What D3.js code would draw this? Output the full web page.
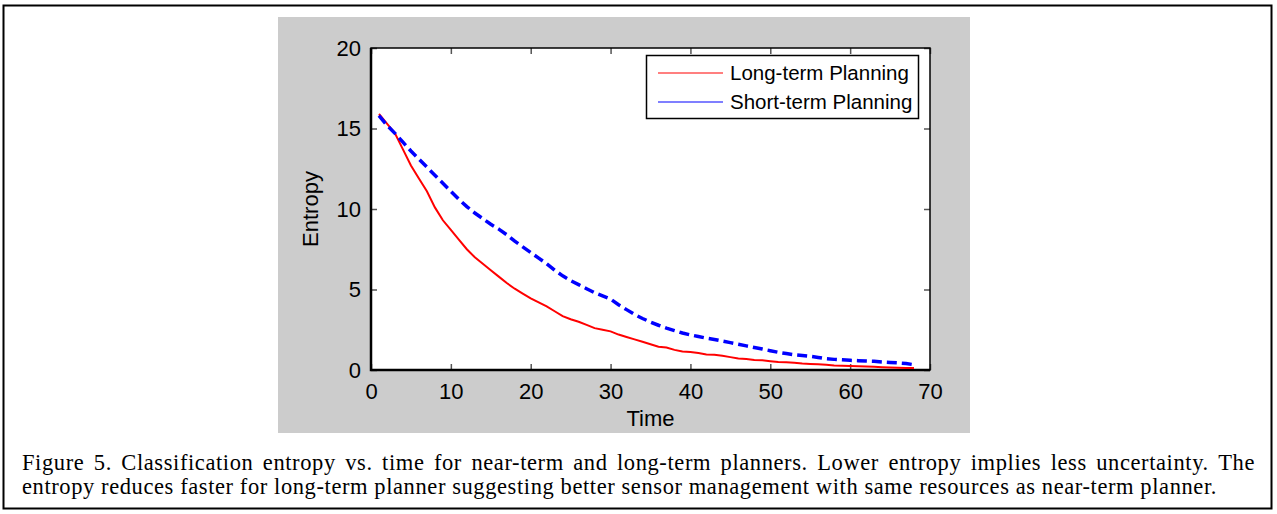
<!DOCTYPE html>
<html>
<head>
<meta charset="utf-8">
<script src="https://cdn.jsdelivr.net/npm/d3@7"></script>
<style>
  html, body { margin: 0; padding: 0; background: #fff; }
  svg { display: block; }
</style>
</head>
<body>
<div id="chart"></div>
<script>
// time steps (x values)
const time = [1, 2, 3, 4, 5, 6, 7, 8, 9, 10, 11, 12, 13, 14, 15, 16, 17, 18, 19, 20,
  21, 22, 23, 24, 25, 26, 27, 28, 29, 30, 31, 32, 33, 34, 35, 36, 37, 38, 39, 40,
  41, 42, 43, 44, 45, 46, 47, 48, 49, 50, 51, 52, 53, 54, 55, 56, 57, 58, 59, 60,
  61, 62, 63, 64, 65, 66, 67, 68];

// entropy, long-term planner (red)
const longTerm = [15.9, 15.3, 14.7, 13.7, 12.7, 11.9, 11.1, 10.1, 9.3, 8.7,
  8.1, 7.5, 7.0, 6.6, 6.2, 5.8, 5.4, 5.05, 4.75, 4.45,
  4.2, 3.95, 3.65, 3.35, 3.15, 3.0, 2.8, 2.6, 2.5, 2.4,
  2.2, 2.05, 1.9, 1.75, 1.6, 1.45, 1.4, 1.25, 1.15, 1.12,
  1.05, 0.97, 0.95, 0.88, 0.8, 0.72, 0.68, 0.62, 0.6, 0.55,
  0.5, 0.48, 0.45, 0.4, 0.38, 0.36, 0.32, 0.28, 0.26, 0.25,
  0.24, 0.22, 0.2, 0.17, 0.15, 0.14, 0.13, 0.12];

// entropy, short-term planner (blue dashed)
const shortTerm = [15.8, 15.2, 14.7, 14.15, 13.6, 13.1, 12.6, 12.1, 11.6, 11.1,
  10.6, 10.15, 9.75, 9.4, 9.05, 8.75, 8.4, 8.0, 7.65, 7.3,
  6.95, 6.6, 6.2, 5.85, 5.55, 5.3, 5.05, 4.8, 4.6, 4.4,
  4.05, 3.75, 3.45, 3.2, 2.98, 2.78, 2.6, 2.45, 2.3, 2.18,
  2.08, 1.98, 1.9, 1.8, 1.7, 1.6, 1.5, 1.4, 1.3, 1.2,
  1.1, 1.02, 0.95, 0.9, 0.85, 0.78, 0.7, 0.66, 0.63, 0.6,
  0.58, 0.56, 0.54, 0.5, 0.47, 0.44, 0.4, 0.33];

const xTicks = [0, 10, 20, 30, 40, 50, 60, 70];
const yTicks = [0, 5, 10, 15, 20];
const legendLabels = ['Long-term Planning', 'Short-term Planning'];
const captionLines = [
  'Figure 5. Classification entropy vs. time for near-term and long-term planners. Lower entropy implies less uncertainty. The',
  'entropy reduces faster for long-term planner suggesting better sensor management with same resources as near-term planner.'
];

const width = 1277, height = 514;
const plot = { left: 371, right: 930, top: 48, bottom: 370 };

const svg = d3.select('#chart')
  .append('svg')
  .attr('width', width)
  .attr('height', height);

// outer frame
svg.append('rect')
  .attr('x', 3.5).attr('y', 5.5)
  .attr('width', 1268).attr('height', 503)
  .attr('fill', '#fff')
  .attr('stroke', '#000')
  .attr('stroke-width', 2);

// gray figure background
svg.append('rect')
  .attr('x', 278).attr('y', 17)
  .attr('width', 692).attr('height', 416)
  .attr('fill', '#cccccc');

svg.append('rect')
  .attr('x', plot.left).attr('y', plot.top)
  .attr('width', plot.right - plot.left).attr('height', plot.bottom - plot.top)
  .attr('fill', '#fff');

const xScale = d3.scaleLinear().domain([0, 70]).range([plot.left, plot.right]);
const yScale = d3.scaleLinear().domain([0, 20]).range([plot.bottom, plot.top]);

const tickFont = '"Liberation Sans", Arial, sans-serif';

// axes
svg.append('g')
  .attr('transform', `translate(0,${plot.bottom})`)
  .call(d3.axisBottom(xScale).tickValues(xTicks).tickSizeInner(-6).tickSizeOuter(0).tickPadding(13));
svg.append('g')
  .attr('transform', `translate(${plot.left},0)`)
  .call(d3.axisLeft(yScale).tickValues(yTicks).tickSizeInner(-6).tickSizeOuter(0).tickPadding(10));
svg.append('g')
  .attr('transform', `translate(0,${plot.top})`)
  .call(d3.axisTop(xScale).tickValues(xTicks).tickSizeInner(-6).tickSizeOuter(0).tickFormat(''));
svg.append('g')
  .attr('transform', `translate(${plot.right},0)`)
  .call(d3.axisRight(yScale).tickValues(yTicks).tickSizeInner(-6).tickSizeOuter(0).tickFormat(''));

svg.selectAll('.tick line').attr('stroke', '#555').attr('stroke-width', 1.5);
svg.selectAll('.domain').remove();
svg.selectAll('.tick text')
  .attr('fill', '#000')
  .style('font-family', tickFont)
  .style('font-size', '22px');

// box
svg.append('rect')
  .attr('x', plot.left).attr('y', plot.top)
  .attr('width', plot.right - plot.left).attr('height', plot.bottom - plot.top)
  .attr('fill', 'none')
  .attr('stroke', '#000')
  .attr('stroke-width', 1.5);
svg.append('path')
  .attr('d', `M${plot.left},${plot.top}V${plot.bottom}H${plot.right}`)
  .attr('fill', 'none')
  .attr('stroke', '#000')
  .attr('stroke-width', 2.5);

// axis labels
svg.append('text')
  .attr('x', (plot.left + plot.right) / 2)
  .attr('y', 426)
  .attr('text-anchor', 'middle')
  .style('font-family', tickFont)
  .style('font-size', '22px')
  .text('Time');
svg.append('text')
  .attr('transform', `translate(318,${(plot.top + plot.bottom) / 2}) rotate(-90)`)
  .attr('text-anchor', 'middle')
  .style('font-family', tickFont)
  .style('font-size', '22px')
  .text('Entropy');

// lines
const line = d3.line()
  .x((d, i) => xScale(time[i]))
  .y(d => yScale(d));

svg.append('path')
  .datum(longTerm)
  .attr('fill', 'none')
  .attr('stroke', '#ff0000')
  .attr('stroke-width', 2)
  .attr('d', line);

svg.append('path')
  .datum(shortTerm)
  .attr('fill', 'none')
  .attr('stroke', '#0000ff')
  .attr('stroke-width', 3.5)
  .attr('stroke-dasharray', '10,5')
  .attr('d', line);

// legend
const legend = svg.append('g');
legend.append('rect')
  .attr('x', 646.5).attr('y', 55.5)
  .attr('width', 272).attr('height', 63)
  .attr('fill', '#fff')
  .attr('stroke', '#000')
  .attr('stroke-width', 1.5);
const legendColors = ['#ff0000', '#0000ff'];
legendLabels.forEach((label, i) => {
  const y = 73 + i * 29;
  legend.append('line')
    .attr('x1', 658).attr('x2', 723)
    .attr('y1', y).attr('y2', y)
    .attr('stroke', legendColors[i])
    .attr('stroke-width', 1.2);
  legend.append('text')
    .attr('x', 730).attr('y', y)
    .attr('dy', '0.35em')
    .style('font-family', tickFont)
    .style('font-size', '20.5px')
    .text(label);
});

// caption: second line sets the letter spacing, first line is justified
const capFont = '"Liberation Serif", "Times New Roman", serif';
const capLeft = 22;
const capRows = [{ y: 470, right: 1255 }, { y: 494, right: 1217 }];
const cap = svg.append('g')
  .style('font-family', capFont)
  .style('font-size', '22.5px');

function measure(s) {
  const t = cap.append('text').text(s);
  const len = t.node().getComputedTextLength();
  t.remove();
  return len;
}

const line2 = captionLines[1];
const ls = Math.max(0, (capRows[1].right - capLeft - measure(line2)) / (line2.length - 1));

captionLines.forEach((text, r) => {
  const words = text.split(' ');
  const widths = words.map(w => measure(w) + ls * w.length);
  const gap = (capRows[r].right - capLeft - d3.sum(widths)) / (words.length - 1);
  let cx = capLeft;
  words.forEach((w, i) => {
    cap.append('text')
      .attr('x', cx).attr('y', capRows[r].y)
      .style('letter-spacing', ls + 'px')
      .text(w);
    cx += widths[i] + gap;
  });
});
</script>
</body>
</html>
